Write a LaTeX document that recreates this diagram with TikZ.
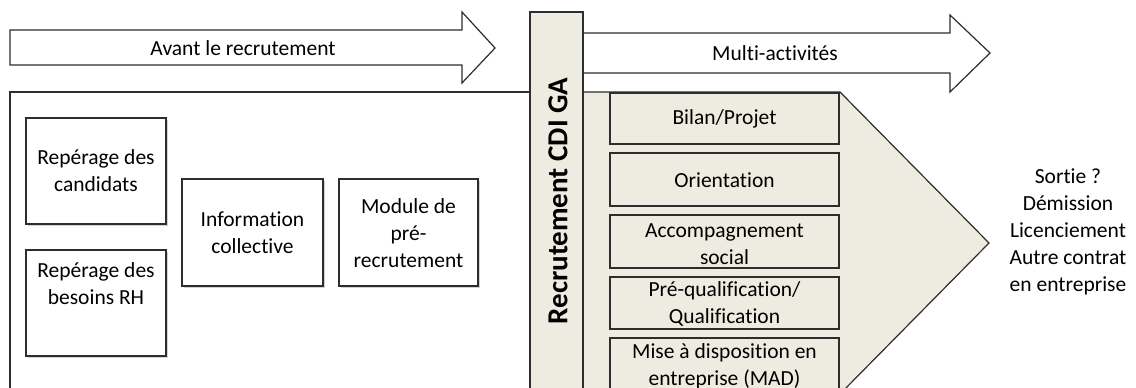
\documentclass[tikz,border=0pt]{standalone}
\usepackage{fontspec}
\setmainfont{Carlito}[Ligatures={NoCommon}]
\usetikzlibrary{shadows}
\definecolor{beige}{RGB}{238,236,225}
\definecolor{edge}{RGB}{45,45,45}
\tikzset{
  txt/.style={font=\fontsize{21.5}{27}\selectfont, align=center, inner sep=0pt},
  lbox/.style={draw=edge, line width=1.2pt, fill=white, drop shadow={shadow xshift=1.5pt, shadow yshift=-1.5pt, opacity=0.35}},
  rbox/.style={draw=edge, line width=1.2pt, fill=beige},
  bigarrow/.style={draw=edge, line width=1.2pt, fill=white},
}
\begin{document}
\begin{tikzpicture}[x=1pt,y=-1pt]
\useasboundingbox (0,0) rectangle (1136,388);
% large left frame
\draw[bigarrow] (10,92) rectangle (530,400);
% arrow 1
\draw[bigarrow] (10,30) -- (462,30) -- (462,12) -- (495,48) -- (462,83) -- (462,65) -- (10,65) -- cycle;
\node[txt] (avant) at (243,48) {Avant le recrutement};
% arrow 2
\draw[bigarrow] (583,33) -- (950,33) -- (950,15) -- (990,53) -- (950,92) -- (950,73) -- (583,73) -- cycle;
\node[txt] (multi) at (775,53) {Multi-activités};
% pentagon
\draw[rbox] (583,92) -- (840,92) -- (989,243) -- (840,394) -- (583,394) -- cycle;
% vertical bar
\draw[rbox] (530,12) rectangle (583,400);
\node[font=\fontsize{29}{30}\selectfont\bfseries, rotate=90, inner sep=0pt] (recr) at (558,201) {Recrutement CDI GA};
% left boxes
\draw[lbox] (26,118) rectangle (166,224);
\node[txt] (cand) at (96,171) {Repérage des\\candidats};
\draw[lbox] (26,250) rectangle (166,356);
\node[txt, anchor=north] (besoins) at (96,262) {Repérage des\\besoins RH};
\draw[lbox] (182,179) rectangle (323,286);
\node[txt] (info) at (252.5,233) {Information\\collective};
\draw[lbox] (339,179) rectangle (478,286);
\node[txt] (module) at (408.5,233) {Module de\\pré-\\recrutement};
% right boxes
\draw[rbox] (610,93) rectangle (839,144);
\node[txt] (bilan) at (724.5,119) {Bilan/Projet};
\draw[rbox] (610,153) rectangle (839,206);
\node[txt] (orient) at (724.5,180) {Orientation};
\draw[rbox] (610,215) rectangle (839,268);
\node[txt] (accomp) at (724.5,244) {Accompagnement\\social};
\draw[rbox] (610,277) rectangle (839,329);
\node[txt] (prequal) at (724.5,304) {Pré-qualification/\\Qualification};
\draw[rbox] (610,338) rectangle (839,394);
\node[txt] (mad) at (724.5,366) {Mise à disposition en\\entreprise (MAD)};
% exit text
\node[txt] (sortie) at (1068,232) {Sortie ?\\Démission\\Licenciement\\Autre contrat\\en entreprise};
\end{tikzpicture}
\end{document}
